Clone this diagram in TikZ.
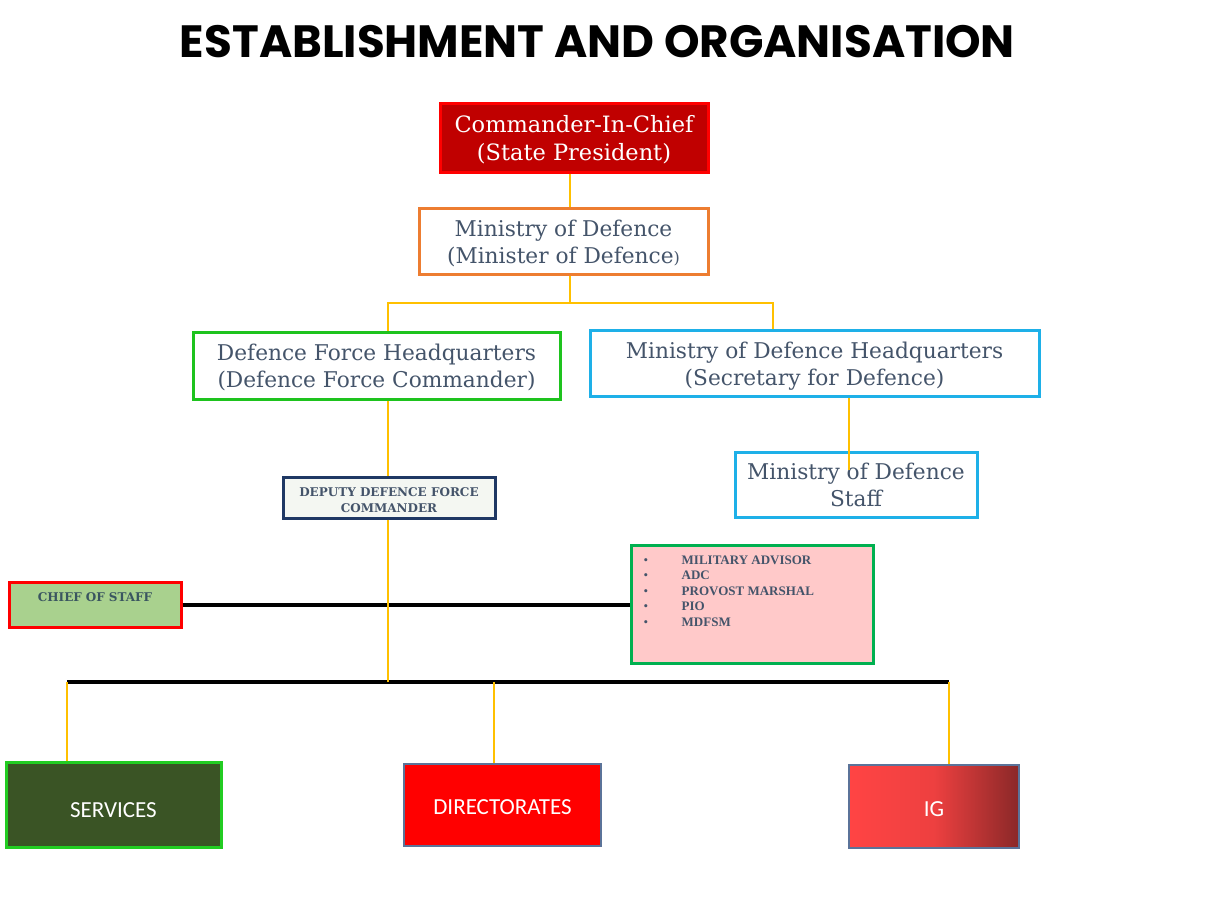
\documentclass[tikz,border=0pt]{standalone}
\usepackage{fontspec}
\usetikzlibrary{calc}
\newfontfamily\dvs{DejaVu Serif}
\newfontfamily\libs{Liberation Serif}
\newfontfamily\carl{Carlito}
\newfontfamily\popf{Poppins}
\definecolor{yl}{HTML}{FFC000}
\definecolor{txt}{HTML}{44546A}
\definecolor{cincfill}{HTML}{C00000}
\definecolor{orng}{HTML}{ED7D31}
\definecolor{grn}{RGB}{30,195,30}
\definecolor{blu}{RGB}{30,176,232}
\definecolor{navy}{HTML}{1F3864}
\definecolor{depfill}{HTML}{F4F7F2}
\definecolor{cosfill}{HTML}{A9D18E}
\definecolor{costxt}{HTML}{3A5560}
\definecolor{lstfill}{HTML}{FFC9C9}
\definecolor{lstborder}{HTML}{00B050}
\definecolor{svfill}{HTML}{3A5425}
\definecolor{svborder}{HTML}{22CC22}
\definecolor{slate}{HTML}{5B7399}
\definecolor{igl}{HTML}{FF4444}
\definecolor{igr}{HTML}{8A2828}
\newcommand{\twoln}[3]{\raisebox{#1}[\height][\depth]{\begin{tabular}{@{}c@{}}#2\\#3\end{tabular}}}
\tikzset{
  box/.style={rectangle, line width=3pt, inner sep=0pt, align=center},
  serifbig/.style={font=\dvs\fontsize{21.7}{27}\selectfont, text=txt},
  yline/.style={draw=yl, line width=2pt},
  bline/.style={draw=black, line width=4pt},
  bottombox/.style={box, line width=2pt, font=\carl\fontsize{23}{26}\selectfont, text=white}
}
\begin{document}
\begin{tikzpicture}[x=1pt,y=-1pt]
\useasboundingbox (0,0) rectangle (1228,922);
\fill[white] (0,0) rectangle (1228,922);
\node (title) at (597.5,42) {\resizebox{835pt}{!}{\popf\bfseries ESTABLISHMENT AND ORGANISATION}};
% lane coordinates
\coordinate (xA) at (570,0);
\coordinate (xL) at (388,0);
\coordinate (xR) at (773,0);
\coordinate (xS) at (849,0);
\coordinate (xSv) at (67,0);
\coordinate (xDir) at (494,0);
\coordinate (xIG) at (949,0);
\coordinate (bus1) at (0,303);
\coordinate (bus2) at (0,682);
% nodes
\node[box, draw=red, fill=cincfill, text=white, font=\dvs\fontsize{22.5}{28}\selectfont,
  minimum width=268pt, minimum height=69pt] (cinc) at (574,137.5)
  {\twoln{-3.5pt}{Commander-In-Chief}{(State President)}};
\node[box, draw=orng, fill=white, serifbig, minimum width=289pt, minimum height=66pt] (mod) at (563.5,241)
  {\twoln{-3.5pt}{Ministry of Defence}{(Minister of Defence{\fontsize{16}{16}\selectfont)}}};
\node[box, draw=grn, fill=white, serifbig, minimum width=367pt, minimum height=67pt] (dfhq) at (376.5,365.5)
  {\twoln{-3.5pt}{Defence Force Headquarters}{(Defence Force Commander)}};
\node[box, draw=blu, fill=white, serifbig, minimum width=449pt, minimum height=66pt] (modhq) at (814.5,363)
  {\twoln{-3.5pt}{Ministry of Defence Headquarters}{(Secretary for Defence)}};
\node[box, draw=blu, fill=white, serifbig, minimum width=242pt, minimum height=65pt] (staff) at (856,484.5)
  {\twoln{-3.5pt}{Ministry of Defence}{Staff}};
\node[box, draw=navy, fill=depfill, text=txt, font=\dvs\bfseries\fontsize{12}{16}\selectfont,
  minimum width=212pt, minimum height=41pt] (deputy) at (389,497.5)
  {\twoln{-4pt}{DEPUTY DEFENCE FORCE}{COMMANDER}};
\node[box, draw=red, fill=cosfill, text=costxt, font=\dvs\bfseries\fontsize{12}{14}\selectfont,
  minimum width=172pt, text height=19.5pt, text depth=25.5pt, text width=172pt] (cos) at (95,604.5)
  {CHIEF OF STAFF};
\node[box, draw=lstborder, fill=lstfill, minimum width=242pt, minimum height=118pt] (lst) at (752,604) {};
\node[anchor=north west, inner sep=0pt, align=left, text=txt,
  font=\libs\bfseries\fontsize{13}{15.5}\selectfont] (lsttext) at ($(lst.north west)+(14,12)$)
  {\makebox[38pt][l]{\mdseries•}MILITARY ADVISOR\\
   \makebox[38pt][l]{\mdseries•}ADC\\
   \makebox[38pt][l]{\mdseries•}PROVOST MARSHAL\\
   \makebox[38pt][l]{\mdseries•}PIO\\
   \makebox[38pt][l]{\mdseries•}MDFSM};
\node[bottombox, draw=svborder, line width=3pt, fill=svfill, minimum width=215pt, minimum height=85pt] (services) at (113.5,804.5)
  {\raisebox{-12.9pt}[0pt][0pt]{SERVICES}};
\node[bottombox, draw=slate, fill=red, minimum width=197pt, minimum height=82pt] (dir) at (502.5,805)
  {\raisebox{-9.4pt}[0pt][0pt]{DIRECTORATES}};
\node[bottombox, draw=slate, left color=igl, right color=igr, middle color=igl!85!igr, minimum width=170pt, minimum height=83pt] (ig) at (934,806.5)
  {\raisebox{-9.9pt}[0pt][0pt]{IG}};
% connectors
\draw[bline] (cos.east) -- (cos.east -| lst.west);
\draw[bline] (xSv |- bus2) -- (xIG |- bus2);
\draw[yline] (cinc.south -| xA) -- (mod.north -| xA);
\draw[yline] (mod.south -| xA) -- (xA |- bus1);
\draw[yline] (dfhq.north -| xL) |- (xR |- bus1) -- (modhq.north -| xR);
\draw[yline] (modhq.south -| xS) -- ($(staff.north -| xS)+(0,19)$);
\draw[yline] (dfhq.south -| xL) -- (deputy.north -| xL);
\draw[yline] (deputy.south -| xL) -- (xL |- bus2);
\draw[yline] (xSv |- bus2) -- (services.north -| xSv);
\draw[yline] (xDir |- bus2) -- (dir.north -| xDir);
\draw[yline] (xIG |- bus2) -- (ig.north -| xIG);
\end{tikzpicture}
\end{document}
